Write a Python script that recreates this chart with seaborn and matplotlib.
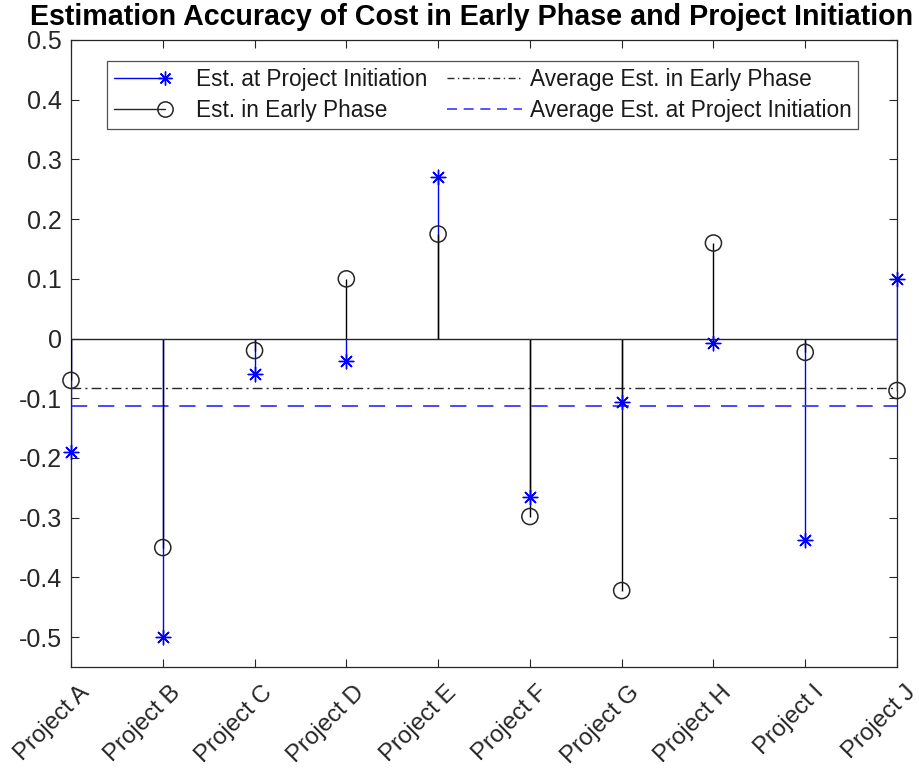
import numpy as np
import pandas as pd
import matplotlib
matplotlib.use("Agg")
import matplotlib.pyplot as plt
import matplotlib.transforms as mtransforms
from matplotlib.lines import Line2D
from matplotlib.legend_handler import HandlerLine2D
import seaborn as sns

projects = ["Project A", "Project B", "Project C", "Project D", "Project E",
            "Project F", "Project G", "Project H", "Project I", "Project J"]
est_initiation = [-0.19, -0.50, -0.06, -0.037, 0.27, -0.266, -0.107, -0.008, -0.338, 0.10]
est_early = [-0.07, -0.35, -0.02, 0.10, 0.175, -0.298, -0.422, 0.16, -0.023, -0.087]
y_ticks = [-0.5, -0.4, -0.3, -0.2, -0.1, 0, 0.1, 0.2, 0.3, 0.4, 0.5]

sns.set_theme(style="white")
plt.rcParams["font.family"] = ["Liberation Sans", "DejaVu Sans"]
plt.rcParams["axes.unicode_minus"] = False

BLUE = "#0000ff"
DASH_BLUE = "#3a3aff"
DARK = "#262626"
TICK_FS = 18


class StemHandler(HandlerLine2D):
    """Legend entry with a stem line and the marker near its right end."""

    def create_artists(self, legend, orig_handle, xdescent, ydescent,
                       width, height, fontsize, trans):
        xm = -xdescent + 0.68 * width
        y = -ydescent + height / 2
        line = Line2D([-xdescent, xm], [y, y])
        self.update_prop(line, orig_handle, legend)
        line.set_marker("")
        mk = Line2D([xm], [y])
        self.update_prop(mk, orig_handle, legend)
        mk.set_linestyle("None")
        line.set_transform(trans)
        mk.set_transform(trans)
        return [line, mk]


df = pd.DataFrame({
    "pos": np.arange(1, len(projects) + 1),
    "project": projects,
    "initiation": est_initiation,
    "early": est_early,
})
avg_early = float(np.mean(est_early))
avg_init = float(np.mean(est_initiation))

fig = plt.figure(figsize=(9.19, 7.75), dpi=100)
ax = fig.add_axes([71 / 919, 1 - 667 / 775, (897 - 71) / 919, (667 - 40) / 775])

# stems: initiation first, early phase drawn over it
ax.vlines(df["pos"], 0, df["initiation"], color=BLUE, lw=1.0, zorder=2)
ax.vlines(df["pos"], 0, df["early"], color="black", lw=1.0, zorder=3)
ax.axhline(0, color=DARK, lw=1.0, zorder=3)

ast = (8, 2, 0)
sns.scatterplot(data=df, x="pos", y="initiation", marker=ast, s=110,
                color=BLUE, edgecolor=BLUE, linewidth=1.0, ax=ax, zorder=4, clip_on=False)
sns.scatterplot(data=df, x="pos", y="early", marker="o", s=135,
                facecolor="none", edgecolor=DARK, linewidth=1.1, ax=ax, zorder=5, clip_on=False)

ax.axhline(avg_early, color=DARK, lw=1.0, ls=(0, (7, 3, 1.5, 3)), zorder=2)
ax.axhline(avg_init, color=DASH_BLUE, lw=1.3, ls=(0, (9, 6)), zorder=2)

ax.set_xlim(1, len(projects))
ax.set_ylim(-0.55, 0.5)
ax.set_xticks(df["pos"])
ax.set_yticks(y_ticks)
ax.set_yticklabels([("0" if v == 0 else f"{v:g}") for v in y_ticks],
                   fontsize=TICK_FS, color=DARK)
ax.set_xlabel("")
ax.set_ylabel("")

ax.tick_params(axis="both", direction="in", length=6, width=0.8, color=DARK,
               top=True, right=True, bottom=True, left=True)
ax.tick_params(axis="y", pad=6.5)
ax.tick_params(axis="x", pad=10.5)
for sp in ax.spines.values():
    sp.set_color(DARK)
    sp.set_linewidth(0.9)

# slanted project names, nudged so each name ends just right of its tick
ax.set_xticklabels(projects, rotation=45, ha="right", va="top",
                   rotation_mode="anchor", fontsize=17.3, color=DARK)
shift = mtransforms.ScaledTranslation(7 / 100, 0, fig.dpi_scale_trans)
for lbl in ax.get_xticklabels():
    lbl.set_transform(lbl.get_transform() + shift)

ax.set_title("Estimation Accuracy of Cost in Early Phase and Project Initiation",
             fontsize=20.6, fontweight="bold", color="black", pad=11,
             x=(472 - 71) / 826)

h_init = Line2D([], [], color=BLUE, lw=1.0, marker=ast, markersize=10,
                markeredgewidth=1.0)
h_early = Line2D([], [], color=DARK, lw=1.0, marker="o", markersize=11,
                 markerfacecolor="none", markeredgewidth=1.1)
h_avg_early = Line2D([], [], color=DARK, lw=1.0, ls=(0, (5, 2.5, 1, 2.5)))
h_avg_init = Line2D([], [], color=DASH_BLUE, lw=1.2, ls=(0, (6, 4)))
handles = [h_init, h_early, h_avg_early, h_avg_init]
labels = ["Est. at Project Initiation", "Est. in Early Phase",
          "Average Est. in Early Phase", "Average Est. at Project Initiation"]
leg = ax.legend(handles, labels, ncol=2, loc="upper left",
                handler_map={h_init: StemHandler(), h_early: StemHandler()},
                bbox_to_anchor=((107 - 71) / 826, (667 - 61) / 627),
                fontsize=16.3, frameon=True, fancybox=False, handlelength=3.3,
                handletextpad=0.35, columnspacing=0.85, borderpad=0.3,
                labelspacing=0.37, borderaxespad=0)
leg.get_frame().set_edgecolor(DARK)
leg.get_frame().set_linewidth(0.9)
for t in leg.get_texts():
    t.set_color("#1a1a1a")

fig.savefig("out.png", dpi=100, facecolor="white")
